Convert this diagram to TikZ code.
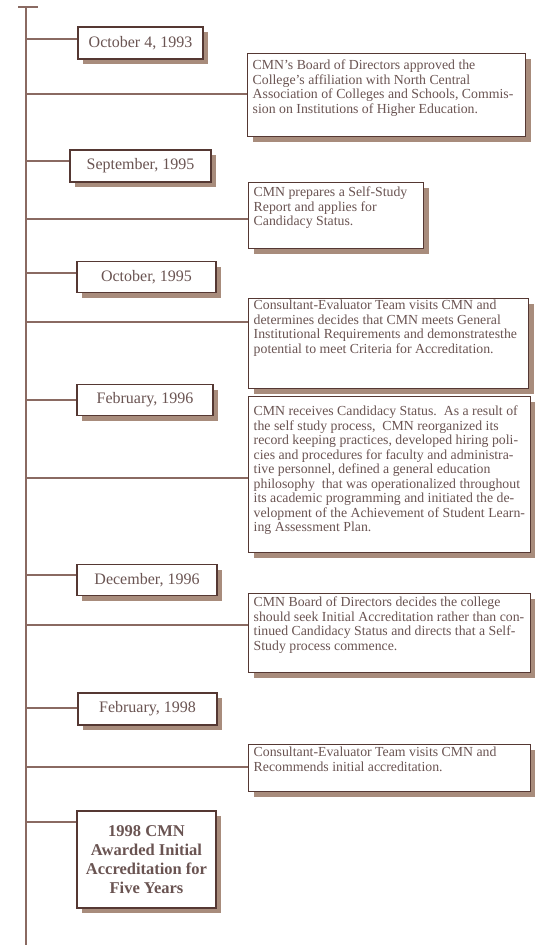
\documentclass[tikz,border=0pt]{standalone}
\usepackage{fontspec}
\setmainfont{Liberation Serif}
\usetikzlibrary{shadows}
\definecolor{spine}{HTML}{8A6A62}
\definecolor{edge}{HTML}{553833}
\definecolor{shad}{HTML}{A88C7C}
\definecolor{ink}{HTML}{6A5452}
\newcommand{\tldtext}[4]{\parbox[t][#2pt][t]{\dimexpr#1pt-10pt\relax}{\vspace*{#3pt}\begin{tabular}{@{}l@{}}#4\end{tabular}}}
\tikzset{
  box/.style={draw=edge, line width=1.4pt, fill=white,
    general shadow={fill=shad, shadow xshift=5pt, shadow yshift=-5pt}, text=ink},
  datebox/.style={box, inner sep=0pt, font=\fontsize{16}{16}\selectfont},
  descbox/.style={box, anchor=north west, inner xsep=5pt, inner ysep=0pt,
    font=\fontsize{13.8}{14.5}\selectfont},
  link/.style={draw=spine, line width=1.1pt},
}
\begin{document}
\begin{tikzpicture}[x=1pt,y=-1pt]
\useasboundingbox (0,0) rectangle (535,945);
\fill[white] (0,0) rectangle (535,945);
% spine
\coordinate (top) at (26,7);
\coordinate (bot) at (26,945);
\coordinate (tl) at (18,7);
\coordinate (tr) at (38,7);
\draw[link] (tl) -- (tr);
\draw[link] (top) -- (bot);

% date boxes
\node[datebox, minimum width=125pt, minimum height=32pt] (d1) at (140.5,43) {October 4, 1993};
\node[datebox, minimum width=141pt, minimum height=32pt] (d2) at (140.5,166) {September, 1995};
\node[datebox, minimum width=139pt, minimum height=31pt] (d3) at (146.5,277) {October, 1995};
\node[datebox, minimum width=136pt, minimum height=31pt] (d4) at (145,400) {February, 1996};
\node[datebox, minimum width=140pt, minimum height=31pt] (d5) at (147,580) {December, 1996};
\node[datebox, minimum width=139pt, minimum height=32pt] (d6) at (147.5,709) {February, 1998};
\node[datebox, minimum width=139pt, minimum height=97pt, align=center,
      font=\bfseries\fontsize{16.5}{19}\selectfont] (fin) at (146.5,859.5)
      {1998 CMN\\Awarded Initial\\Accreditation for\\Five Years};

% description boxes
\node[descbox] (e1) at (247,53) {\tldtext{278}{83}{6}{CMN’s Board of Directors approved the\\
College’s affiliation with North Central\\
Association of Colleges and Schools, Commis-\\
sion on Institutions of Higher Education.}};
\node[descbox] (e2) at (248,182) {\tldtext{175}{66}{4}{CMN prepares a Self-Study\\
Report and applies for\\
Candidacy Status.}};
\node[descbox] (e3) at (248,298) {\tldtext{280}{90}{1}{Consultant-Evaluator Team visits CMN and\\
determines decides that CMN meets General\\
Institutional Requirements and demonstratesthe\\
potential to meet Criteria for Accreditation.}};
\node[descbox] (e4) at (248,396) {\tldtext{282}{156}{9}{CMN receives Candidacy Status.\ \ As a result of\\
the self study process,\ \ CMN reorganized its\\
record keeping practices, developed hiring poli-\\
cies and procedures for faculty and administra-\\
tive personnel, defined a general education\\
philosophy\ \ that was operationalized throughout\\
its academic programming and initiated the de-\\
velopment of the Achievement of Student Learn-\\
ing Assessment Plan.}};
\node[descbox] (e5) at (248,593) {\tldtext{282}{79}{3}{CMN Board of Directors decides the college\\
should seek Initial Accreditation rather than con-\\
tinued Candidacy Status and directs that a Self-\\
Study process commence.}};
\node[descbox] (e6) at (248,744) {\tldtext{282}{47}{2}{Consultant-Evaluator Team visits CMN and\\
Recommends initial accreditation.}};

% branch coordinates on the spine
\coordinate (s1) at (26,39);
\coordinate (t1) at (26,94);
\coordinate (s2) at (26,161);
\coordinate (t2) at (26,219);
\coordinate (s3) at (26,273);
\coordinate (t3) at (26,322);
\coordinate (s4) at (26,400);
\coordinate (t4) at (26,478);
\coordinate (s5) at (26,575);
\coordinate (t5) at (26,625);
\coordinate (s6) at (26,708);
\coordinate (t6) at (26,767);
\coordinate (s7) at (26,822);

\draw[link] (s1) -- (s1 -| d1.west);
\draw[link] (t1) -- (t1 -| e1.west);
\draw[link] (s2) -- (s2 -| d2.west);
\draw[link] (t2) -- (t2 -| e2.west);
\draw[link] (s3) -- (s3 -| d3.west);
\draw[link] (t3) -- (t3 -| e3.west);
\draw[link] (s4) -- (s4 -| d4.west);
\draw[link] (t4) -- (t4 -| e4.west);
\draw[link] (s5) -- (s5 -| d5.west);
\draw[link] (t5) -- (t5 -| e5.west);
\draw[link] (s6) -- (s6 -| d6.west);
\draw[link] (t6) -- (t6 -| e6.west);
\draw[link] (s7) -- (s7 -| fin.west);
\end{tikzpicture}
\end{document}
